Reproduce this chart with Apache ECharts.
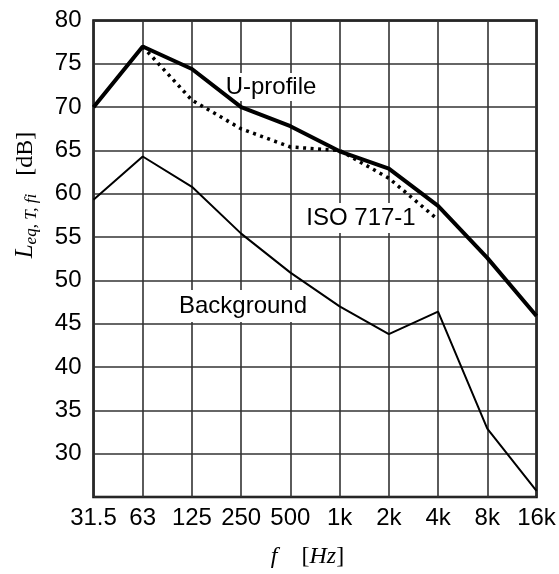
<!DOCTYPE html>
<html>
<head>
<meta charset="utf-8">
<script src="https://cdn.jsdelivr.net/npm/echarts@6/dist/echarts.min.js"></script>
<style>html,body{margin:0;padding:0;background:#fff;}#c{width:559px;height:574px;}</style>
</head>
<body>
<div id="c"></div>
<script>
const categories = ["31.5","63","125","250","500","1k","2k","4k","8k","16k"];
const uProfile   = [70.0, 77.0, 74.4, 70.0, 67.8, 64.9, 62.9, 58.6, 52.6, 45.9];
const iso7171    = [null, 77.0, 70.8, 67.5, 65.4, 65.0, 61.8, 57.0, null, null];
const background = [59.3, 64.3, 60.8, 55.4, 50.9, 47.0, 43.8, 46.4, 32.9, 25.7];
const yTicks = [30,35,40,45,50,55,60,65,70,75,80];

const chart = echarts.init(document.getElementById('c'), null, {renderer:'canvas'});
const sans = '"Liberation Sans", Arial, sans-serif';
const serif = '"Liberation Serif", "Times New Roman", serif';
const gridLine = {show:true, lineStyle:{color:'#333', width:1.6}};

chart.setOption({
  animation:false,
  backgroundColor:'#fff',
  grid:{left:93.5, right:22.5, top:20.5, bottom:71, show:true, borderColor:'#000', borderWidth:2.5, containLabel:false},
  xAxis:{
    type:'category', data:categories, boundaryGap:false,
    axisLine:{show:false}, axisTick:{show:false},
    splitLine:gridLine,
    axisLabel:{color:'#000', fontFamily:sans, fontSize:24, margin:9, showMinLabel:true, showMaxLabel:true, interval:0},
    name:'{f|f}{n|[}{i|Hz}{n|]}', nameLocation:'middle', nameGap:48,
    nameTextStyle:{rich:{
      f:{fontFamily:serif, fontStyle:'italic', fontSize:24, color:'#000', padding:[0,24,0,0]},
      i:{fontFamily:serif, fontStyle:'italic', fontSize:24, color:'#000'},
      n:{fontFamily:serif, fontSize:24, color:'#000'}
    }, padding:[0,15,0,0]}
  },
  yAxis:{
    type:'value', min:25, max:80, interval:5,
    axisLine:{show:false}, axisTick:{show:false},
    splitLine:gridLine,
    axisLabel:{color:'#000', fontFamily:sans, fontSize:24, margin:12,
      formatter:v => yTicks.indexOf(v) >= 0 ? String(v) : ''}
  },
  graphic:[
    {type:'text', z:1, x:25, y:195, rotation:Math.PI/2,
      style:{text:'{L|L}{s|eq, T, fi}{n|[dB]}', align:'center', verticalAlign:'middle',
        rich:{
          L:{fontFamily:serif, fontStyle:'italic', fontSize:25, fill:'#000', verticalAlign:'bottom'},
          s:{fontFamily:serif, fontStyle:'italic', fontSize:17, fill:'#000', verticalAlign:'bottom', padding:[0,18,-3,0]},
          n:{fontFamily:serif, fontSize:24, fill:'#000', verticalAlign:'bottom'}
        }}},
    {type:'text', z:1, x:271, y:87,
      style:{text:'U-profile', font:'24px '+sans, fill:'#000', align:'center', verticalAlign:'middle',
        backgroundColor:'#fff', padding:[2,4,2,4]}},
    {type:'text', z:1, x:361, y:218,
      style:{text:'ISO 717-1', font:'24px '+sans, fill:'#000', align:'center', verticalAlign:'middle',
        backgroundColor:'#fff', padding:[3,4,3,4]}},
    {type:'text', z:1, x:243, y:306,
      style:{text:'Background', font:'24px '+sans, fill:'#000', align:'center', verticalAlign:'middle',
        backgroundColor:'#fff', padding:[4,3,4,3]}}
  ],
  series:[
    {name:'ISO 717-1', type:'line', data:iso7171, symbol:'none', connectNulls:false, z:3,
      lineStyle:{color:'#000', width:3.5, type:[3,4.5]}},
    {name:'U-profile', type:'line', data:uProfile, symbol:'none', z:4,
      lineStyle:{color:'#000', width:4}},
    {name:'Background', type:'line', data:background, symbol:'none', z:4,
      lineStyle:{color:'#000', width:2}}
  ]
});
</script>
</body>
</html>
